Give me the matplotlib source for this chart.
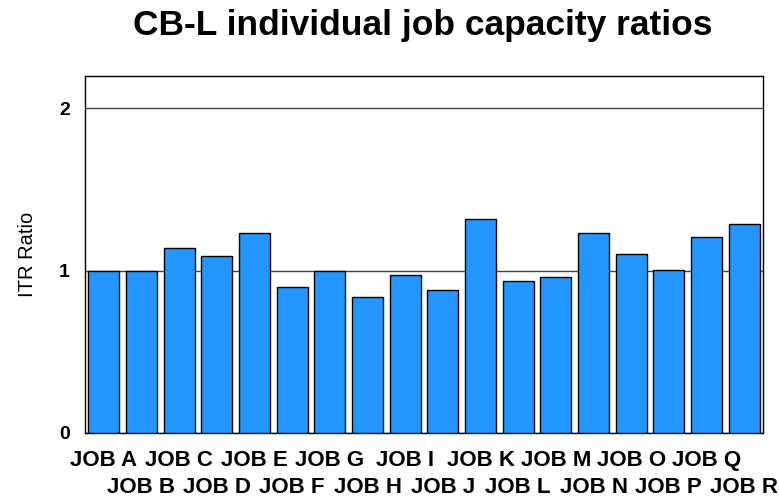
import numpy as np
import matplotlib.pyplot as plt

plt.rcParams['font.family'] = ['Liberation Sans', 'DejaVu Sans']

trabajos = ['JOB A', 'JOB B', 'JOB C', 'JOB D', 'JOB E', 'JOB F', 'JOB G', 'JOB H', 'JOB I',
            'JOB J', 'JOB K', 'JOB L', 'JOB M', 'JOB N', 'JOB O', 'JOB P', 'JOB Q', 'JOB R']
ratios = [1.00, 1.00, 1.14, 1.09, 1.23, 0.90, 1.00, 0.835, 0.975,
          0.88, 1.32, 0.935, 0.96, 1.23, 1.10, 1.005, 1.205, 1.29]
ticks_y = [0, 1, 2]

fig = plt.figure(figsize=(7.79, 4.99), dpi=100)
ax = fig.add_axes([0.1091, 0.1323, 0.8704, 0.7154])

x = np.arange(len(trabajos))
ax.bar(x, ratios, width=0.82, color='#2397FF', edgecolor='black', linewidth=1, zorder=3)

ax.set_xlim(-0.5, len(trabajos) - 0.5)
ax.set_ylim(0, 2.2)
ax.set_yticks(ticks_y)
ax.set_yticklabels([str(t) for t in ticks_y], fontsize=14, fontweight='bold')
ax.yaxis.grid(True, color='#444444', linewidth=1)
ax.set_axisbelow(True)

# etiquetas alternadas en dos filas
ax.set_xticks(x[::2])
ax.set_xticklabels(trabajos[::2], fontsize=16, fontweight='bold')
ax.set_xticks(x[1::2], minor=True)
ax.set_xticklabels(trabajos[1::2], minor=True, fontsize=16, fontweight='bold')
ax.tick_params(axis='x', which='major', length=0, pad=12)
ax.tick_params(axis='x', which='minor', length=0, pad=32)
ax.tick_params(axis='y', length=0, pad=11)

for lado in ['left', 'top', 'right', 'bottom']:
    ax.spines[lado].set_color('black')
    ax.spines[lado].set_linewidth(1)

ax.set_ylabel('ITR Ratio', fontsize=14.5, labelpad=16)
fig.text(0.5425, 0.948, 'CB-L individual job capacity ratios', ha='center', va='center',
         fontsize=25.5, fontweight='bold')

fig.savefig('out.png', dpi=100)
